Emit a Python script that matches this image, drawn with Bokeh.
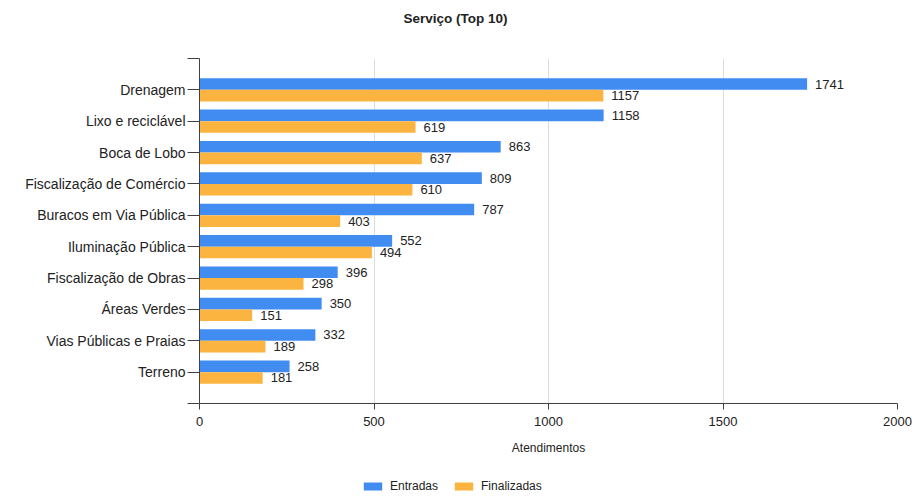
from bokeh.plotting import figure
from bokeh.layouts import column
from bokeh.models import (ColumnDataSource, FixedTicker, Range1d, Legend, LegendItem,
                          Label, LabelSet)
from bokeh.core.properties import value
from bokeh.transform import dodge
from bokeh.embed import file_html
from bokeh.resources import INLINE

# Top 10 service types, largest first
servicos = ["Drenagem", "Lixo e reciclável", "Boca de Lobo", "Fiscalização de Comércio",
            "Buracos em Via Pública", "Iluminação Pública", "Fiscalização de Obras",
            "Áreas Verdes", "Vias Públicas e Praias", "Terreno"]
entradas = [1741, 1158, 863, 809, 787, 552, 396, 350, 332, 258]
finalizadas = [1157, 619, 637, 610, 403, 494, 298, 151, 189, 181]
x_ticks = [0, 500, 1000, 1500, 2000]

BLUE = "#418CF0"
ORANGE = "#FCB441"
TEXT = "#222222"
FONT = "Liberation Sans"
W = 915
LEFT, RIGHT = 199, 18          # borders around the plotting area


def blank(height):
    """A figure without axes or grid, used for the header and the legend strip.
    Its frame lines up with the chart's frame, so x is measured in page pixels."""
    f = figure(width=W, height=height, output_backend="svg", toolbar_location=None,
               x_range=Range1d(LEFT, W - RIGHT), y_range=Range1d(0, height),
               min_border_left=LEFT, min_border_right=RIGHT,
               min_border_top=0, min_border_bottom=0)
    f.axis.visible = False
    f.grid.visible = False
    f.outline_line_color = None
    f.border_fill_color = "white"
    return f


# header with the title
head = blank(40)
head.add_layout(Label(x=455, y=22, text="Serviço (Top 10)", text_align="center",
                      text_baseline="middle", text_font=FONT,
                      text_font_size="13.5px", text_font_style="bold",
                      text_color=TEXT))

# main bar chart
pos = list(range(1, len(servicos) + 1))
src = ColumnDataSource(dict(
    pos=pos, servico=servicos, entradas=entradas, finalizadas=finalizadas,
    ent_txt=[str(v) for v in entradas], fin_txt=[str(v) for v in finalizadas],
))

p = figure(width=W, height=430, output_backend="svg", toolbar_location=None,
           x_range=Range1d(0, 2000), y_range=Range1d(len(servicos) + 1, 0),
           min_border_left=LEFT, min_border_right=RIGHT, min_border_top=18,
           min_border_bottom=67)
p.outline_line_color = None
p.background_fill_color = "white"
p.border_fill_color = "white"

BAR_H = 0.37
OFF = 0.185
p.hbar(y=dodge("pos", -OFF, range=p.y_range), left=0, right="entradas",
       height=BAR_H, source=src, fill_color=BLUE, line_color=None)
p.hbar(y=dodge("pos", OFF, range=p.y_range), left=0, right="finalizadas",
       height=BAR_H, source=src, fill_color=ORANGE, line_color=None)

# value labels at the end of each bar
for col, txt, off in (("entradas", "ent_txt", -OFF), ("finalizadas", "fin_txt", OFF)):
    p.add_layout(LabelSet(x=col, y=dodge("pos", off, range=p.y_range), text=txt,
                          source=src, x_offset=8, text_baseline="middle",
                          text_align="left", text_font=value(FONT),
                          text_font_size="13px", text_color=TEXT))

# axes
p.xaxis.ticker = FixedTicker(ticks=x_ticks)
p.xaxis.axis_label = "Atendimentos"
p.xaxis.axis_label_text_font = FONT
p.xaxis.axis_label_text_font_size = "12px"
p.xaxis.axis_label_text_font_style = "normal"
p.xaxis.axis_label_text_color = TEXT
p.xaxis.axis_label_standoff = 12
p.xaxis.major_label_text_font = FONT
p.xaxis.major_label_text_font_size = "13px"
p.xaxis.major_label_text_color = TEXT
p.xaxis.major_label_standoff = 7
p.xaxis.major_tick_out = 6
p.xaxis.major_tick_in = 0
p.xaxis.minor_tick_line_color = None

ticks_y = list(range(0, len(servicos) + 2))
p.yaxis.ticker = FixedTicker(ticks=ticks_y)
overrides = {t: "" for t in ticks_y}
for i, s in zip(pos, servicos):
    overrides[i] = s
p.yaxis.major_label_overrides = overrides
p.yaxis.major_label_text_font = FONT
p.yaxis.major_label_text_font_size = "14px"
p.yaxis.major_label_text_color = TEXT
p.yaxis.major_label_standoff = 2
p.yaxis.major_tick_out = 12
p.yaxis.major_tick_in = 0
p.yaxis.minor_tick_line_color = None

for ax in (p.xaxis, p.yaxis):
    ax.axis_line_color = "#404040"
    ax.major_tick_line_color = "#404040"

p.ygrid.grid_line_color = None
p.xgrid.ticker = FixedTicker(ticks=x_ticks[1:])
p.xgrid.grid_line_color = "#dcdcdc"
p.xgrid.grid_line_width = 1

# legend strip under the chart; the key glyphs are zero-width bars
foot = blank(26)
key = dict(y=[0], right=[LEFT])
k_ent = foot.hbar(y="y", right="right", left=LEFT, height=1,
                  source=ColumnDataSource(key), fill_color=BLUE, line_color=None)
k_fin = foot.hbar(y="y", right="right", left=LEFT, height=1,
                  source=ColumnDataSource(key), fill_color=ORANGE, line_color=None)
legend = Legend(items=[LegendItem(label="Entradas", renderers=[k_ent]),
                       LegendItem(label="Finalizadas", renderers=[k_fin])],
                location=(162, 3), orientation="horizontal",
                glyph_width=23, glyph_height=10, label_height=12,
                label_standoff=6, spacing=14, padding=0, margin=0,
                border_line_color=None, background_fill_alpha=0,
                label_text_font=FONT, label_text_font_size="12px",
                label_text_color=TEXT)
foot.add_layout(legend, "center")

page = column(head, p, foot, spacing=0)
open("out.html", "w").write(file_html(page, INLINE))
